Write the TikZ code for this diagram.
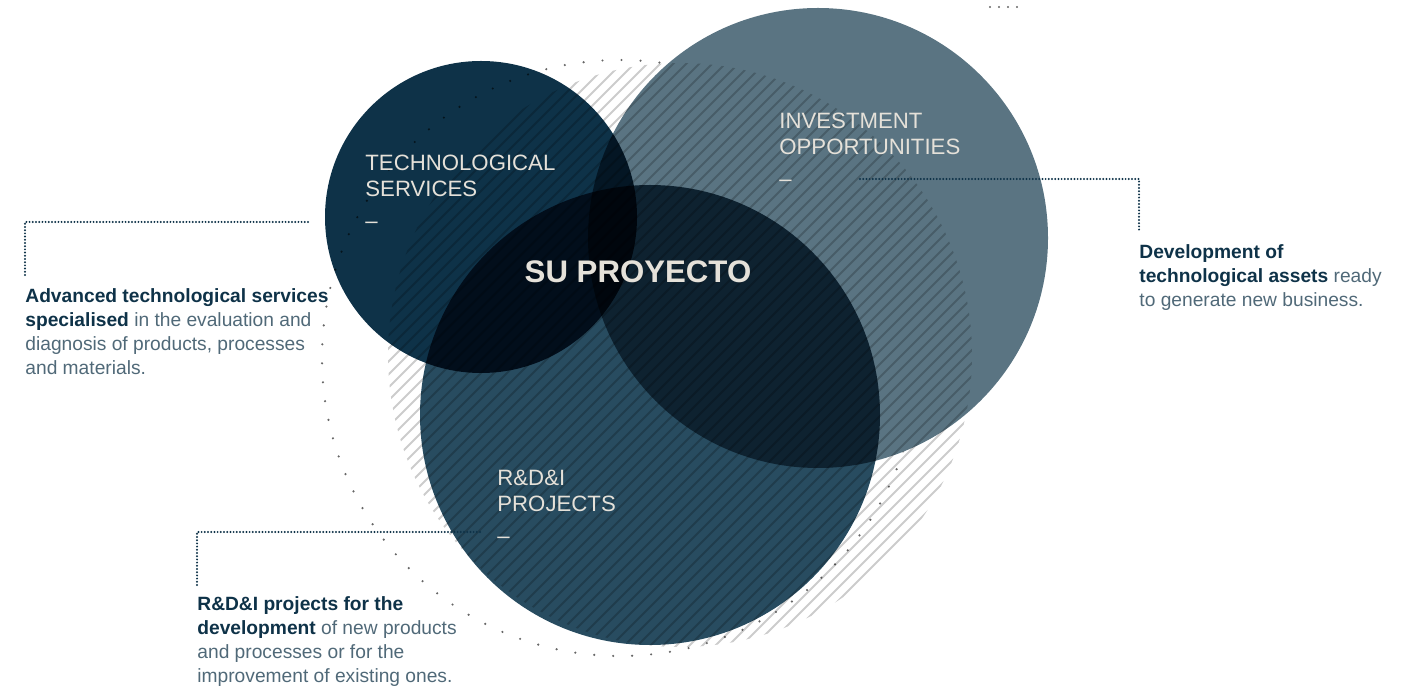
\documentclass[tikz,border=0pt]{standalone}
\usepackage{fontspec}
\setmainfont{Liberation Sans}
\usetikzlibrary{positioning}

\definecolor{navy}{RGB}{14,50,72}
\definecolor{slate}{RGB}{90,116,130}
\definecolor{rdblue}{RGB}{40,76,96}
\definecolor{cream}{RGB}{229,225,217}
\definecolor{greytext}{RGB}{80,105,120}

\newcommand{\descfont}{\fontsize{9.6}{12}\selectfont}
\newcommand{\labfont}{\fontsize{11.1}{13}\selectfont}
\newcommand{\keyword}[1]{\textbf{\color{navy}#1}}

\tikzset{
  area/.style={circle, inner sep=0pt, blend mode=multiply},
  hatch/.style={draw=black, opacity=0.2, line width=1pt},
  dotring/.style={draw=black!60, line width=1.2pt, dash pattern=on 0pt off 9.5pt, line cap=round, blend mode=multiply},
  leader/.style={draw=navy, line width=1.1pt, dash pattern=on 0pt off 1.6pt, line cap=round},
  lab/.style={inner sep=0pt, align=left, text=cream, font=\labfont},
  desc/.style={inner sep=0pt, align=left, text=greytext, font=\descfont}
}

\begin{document}
\begin{tikzpicture}[x=0.5pt, y=-0.5pt]
    \useasboundingbox (0,0) rectangle (1427,688);

    % the three fields
    \node[area, fill=slate, minimum size=230pt] (inv) at (818,238) {};
    \node[area, fill=navy, minimum size=156pt] (ts) at (481,217) {};
    \node[area, fill=rdblue, minimum size=230pt] (rd) at (650,415) {};

    % hatched disc
    \begin{scope}
        \clip (680,355) circle (292);
        \foreach \c in {620,633,...,1450}
            \draw[hatch] (\c,0) -- (\c-700,700);
    \end{scope}

    % dotted ring, hidden behind the investment field
    \begin{scope}[even odd rule]
        \clip (-10,-10) rectangle (1440,700) (818,238) circle (230);
        \draw[dotring] (620,358) circle (298);
    \end{scope}
    \draw[dotring, dash pattern=on 0pt off 4.5pt] (990,7) -- (1018,7);

    % labels
    \node[lab, anchor=north west] (tslab) at (365,155) {TECHNOLOGICAL\\SERVICES\\[3pt]--};
    \node[lab, anchor=north west] (invlab) at (779,113) {INVESTMENT\\OPPORTUNITIES\\[3pt]--};
    \node[lab, anchor=north west] (rdlab) at (497,470) {R\&D\&I\\PROJECTS\\[3pt]--};
    \node[text=cream, font=\bfseries\fontsize{15.6}{18}\selectfont] (su) at (638,272) {SU PROYECTO};

    % descriptions
    \node[desc, anchor=north west] (tsdesc) at (25,288) {\keyword{Advanced technological services}\\\keyword{specialised} in the evaluation and\\diagnosis of products, processes\\and materials.};
    \node[desc, anchor=north west] (invdesc) at (1139,244) {\keyword{Development of}\\\keyword{technological assets} ready\\to generate new business.};
    \node[desc, anchor=north west] (rddesc) at (197,596) {\keyword{R\&D\&I projects for the}\\\keyword{development} of new products\\and processes or for the\\improvement of existing ones.};

    % leaders
    \coordinate (ts-in) at (308,222);
    \coordinate (inv-in) at (860,179);
    \coordinate (rd-in) at (480,532);
    \draw[leader] (ts-in) -| ([yshift=6.5pt]tsdesc.north west);
    \draw[leader] (inv-in) -| ([yshift=6pt]invdesc.north west);
    \draw[leader] (rd-in) -| ([yshift=5.5pt]rddesc.north west);
\end{tikzpicture}
\end{document}
